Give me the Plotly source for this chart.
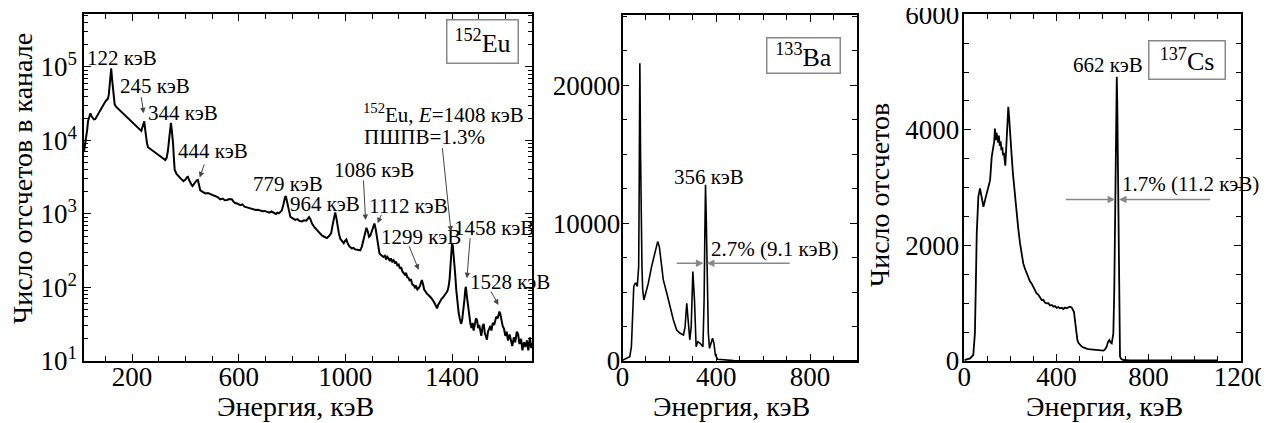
import plotly.graph_objects as go

# ---------------- data ----------------
eu_energy = [
    20, 24, 28, 32, 35, 40, 44, 48, 52, 57,
    62, 67, 72, 78, 85, 92, 100, 105, 110, 113,
    116, 119, 122, 125, 128, 131, 135, 140, 150, 162,
    175, 187, 200, 212, 222, 231, 235, 238, 242, 246,
    249, 252, 256, 260, 270, 281, 293, 306, 316, 325,
    330, 335, 340, 343, 346, 349, 352, 354, 357, 360,
    367, 375, 384, 393, 401, 406, 410, 414, 419, 423,
    427, 432, 437, 442, 447, 451, 456, 465, 475, 485,
    494, 503, 512, 521, 531, 540, 548, 556, 565, 575,
    581, 587, 596, 606, 614, 622, 631, 640, 648, 656,
    664, 672, 681, 690, 698, 706, 715, 723, 731, 740,
    745, 750, 756, 762, 767, 771, 774, 777, 781, 785,
    790, 794, 803, 812, 820, 829, 837, 845, 854, 859,
    864, 869, 875, 884, 894, 903, 912, 921, 931, 939,
    947, 952, 956, 959, 962, 966, 971, 976, 981, 988,
    994, 999, 1004, 1010, 1016, 1024, 1030, 1037, 1046, 1056,
    1062, 1068, 1074, 1079, 1084, 1089, 1094, 1100, 1105, 1109,
    1114, 1119, 1124, 1128, 1135, 1143, 1148, 1153, 1157, 1162,
    1167, 1171, 1176, 1181, 1186, 1190, 1195, 1200, 1205, 1209,
    1214, 1218, 1223, 1228, 1232, 1237, 1242, 1246, 1251, 1256,
    1261, 1265, 1270, 1275, 1280, 1284, 1287, 1291, 1296, 1301,
    1306, 1312, 1317, 1322, 1327, 1331, 1336, 1340, 1344, 1348,
    1352, 1356, 1361, 1366, 1370, 1375, 1380, 1384, 1387, 1391,
    1394, 1397, 1400, 1403, 1406, 1409, 1412, 1416, 1420, 1425,
    1429, 1434, 1438, 1443, 1447, 1450, 1452, 1455, 1460, 1464,
    1469, 1473, 1477, 1481, 1485, 1490, 1494, 1498, 1502, 1506,
    1510, 1515, 1519, 1523, 1527, 1531, 1535, 1540, 1544, 1548,
    1553, 1558, 1562, 1566, 1571, 1575, 1578, 1581, 1585, 1590,
    1595, 1600, 1605, 1610, 1616, 1621, 1626, 1632, 1637, 1643,
    1648, 1653, 1659, 1664, 1670, 1675, 1681, 1686, 1692, 1697,
    1700,
]
eu_counts = [
    7000, 8500, 10500, 14000, 18200, 22000, 23400, 21500, 20000, 19300,
    19500, 21000, 22400, 25000, 27500, 30500, 33900, 35500, 37200, 42000,
    53700, 72000, 95500, 70000, 55000, 40000, 31000, 28800, 26500, 24500,
    22000, 20000, 18000, 16200, 15000, 13800, 13500, 14800, 16500, 18200,
    14500, 11200, 9300, 8100, 7600, 7100, 6500, 6000, 5700, 5400,
    5800, 7400, 11000, 15500, 17400, 14000, 11000, 9100, 5800, 4000,
    3500, 3200, 3000, 2800, 2950, 3150, 3200, 2900, 2600, 2500,
    2400, 2550, 2700, 2850, 2900, 2500, 2100, 2000, 1900, 1930,
    1860, 1820, 1740, 1690, 1580, 1620, 1540, 1550, 1600, 1580,
    1460, 1410, 1380, 1320, 1350, 1260, 1230, 1200, 1170, 1150,
    1130, 1140, 1120, 1090, 1100, 1070, 1040, 1080, 1050, 1000,
    1040, 1020, 1060, 1120, 1300, 1550, 1700, 1740, 1500, 1200,
    1000, 910, 870, 830, 850, 800, 790, 820, 810, 860,
    910, 850, 740, 660, 600, 560, 510, 490, 470, 500,
    550, 700, 870, 980, 1050, 900, 680, 540, 460, 420,
    400, 430, 450, 390, 360, 340, 345, 330, 325, 320,
    360, 450, 560, 650, 580, 490, 510, 580, 680, 740,
    620, 470, 360, 290, 275, 260, 270, 240, 262, 250,
    228, 248, 226, 235, 212, 225, 200, 205, 180, 190,
    165, 160, 150, 158, 138, 135, 122, 130, 110, 107,
    100, 106, 94, 98, 105, 118, 126, 112, 93, 88,
    82, 79, 74, 72, 68, 65, 60, 56, 52, 58,
    62, 65, 70, 73, 76, 79, 86, 92, 102, 130,
    174, 260, 400, 370, 290, 234, 150, 93, 62, 45,
    38, 32, 36, 49, 70, 95, 102, 80, 55, 40,
    32, 28, 33, 26, 30, 38, 36, 28, 31, 25,
    22, 30, 32, 24, 21, 19.5, 25, 28, 30, 26,
    33, 31, 36, 40, 38, 45, 47, 44, 36, 30,
    27.5, 22, 25, 19, 23, 19, 16, 21, 18, 25,
    23, 17, 20, 14, 18, 15.5, 19, 14, 21, 15,
    17.4,
]

ba_energy = [
    0, 17, 31, 38, 44, 48, 53, 57, 63, 66,
    69, 71, 74, 77, 80, 83, 86, 91, 99, 110,
    124, 138, 150, 157, 164, 174, 189, 203, 217, 231,
    246, 260, 267, 274, 280, 287, 293, 300, 307, 314,
    321, 331, 343, 348, 351, 354, 357, 360, 366, 371,
    377, 384, 390, 396, 406, 431, 474, 550, 700, 850,
    1000,
]
ba_counts = [
    60, 200, 310, 1040, 3500, 5400, 5600, 5640, 5400, 6000,
    6850, 12000, 21600, 15000, 9500, 6850, 5200, 4430, 4920, 5640,
    6850, 7820, 8660, 8300, 7100, 5880, 4920, 3940, 2980, 2250,
    2010, 1890, 2490, 4190, 2980, 1525, 2490, 6490, 4430, 1040,
    1400, 1285, 1040, 4430, 9000, 12780, 10500, 6850, 2010, 920,
    1285, 1650, 1285, 435, 120, 70, 30, 20, 10, 10,
    10,
]

cs_energy = [
    0, 25, 39, 46, 50, 54, 61, 68, 75, 83,
    90, 97, 104, 112, 119, 126, 130, 133, 137, 140,
    143, 147, 150, 154, 158, 161, 165, 168, 172, 175,
    178, 181, 184, 188, 191, 194, 198, 202, 206, 211,
    216, 221, 227, 234, 242, 249, 256, 263, 271, 278,
    285, 292, 299, 307, 314, 321, 329, 336, 343, 350,
    358, 365, 372, 380, 387, 394, 401, 408, 415, 423,
    430, 437, 444, 451, 458, 466, 471, 476, 480, 483,
    487, 491, 496, 502, 510, 517, 524, 531, 539, 546,
    553, 560, 567, 575, 582, 589, 596, 604, 611, 618,
    624, 630, 635, 640, 644, 647, 651, 654, 657, 660,
    662, 664, 667, 670, 672, 676, 680, 690, 720, 800,
    900, 1000, 1100,
]
cs_counts = [
    15, 46, 104, 478, 1300, 2208, 2842, 2986, 2842, 2669,
    2784, 2899, 3015, 3130, 3533, 3706, 3800, 4023, 3822, 3950,
    3860, 3780, 3900, 3720, 3800, 3650, 3700, 3560, 3600, 3450,
    3380, 3600, 3937, 4200, 4398, 4250, 4052, 3800, 3533, 3250,
    3015, 2780, 2553, 2300, 2035, 1850, 1689, 1600, 1516, 1430,
    1380, 1343, 1280, 1230, 1170, 1150, 1100, 1055, 1060, 1010,
    997, 1000, 960, 970, 940, 950, 920, 935, 911, 920,
    900, 925, 911, 930, 940, 928, 900, 853, 720, 594,
    470, 363, 310, 277, 250, 235, 219, 215, 205, 202,
    200, 195, 192, 190, 188, 185, 182, 179, 200, 248,
    330, 363, 320, 305, 400, 478, 1200, 2208, 3600, 4700,
    4917, 4500, 3360, 1800, 1055, 75, 40, 17, 12, 10,
    10, 10, 10,
]

eu_ticks = [200, 600, 1000, 1400]
ba_xticks = [0, 400, 800]
cs_xticks = [0, 400, 800, 1200]
eu_yticks = [10, 100, 1000, 10000, 100000]
eu_yticktext = ["10<sup>1</sup>", "10<sup>2</sup>", "10<sup>3</sup>", "10<sup>4</sup>", "10<sup>5</sup>"]
ba_yticks = [0, 10000, 20000]
ba_yticktext = ["0", "10000", "20000"]
cs_yticks = [0, 2000, 4000, 6000]
cs_yticktext = ["0", "2000", "4000", "6000"]

x_title = "Энергия, кэВ"
eu_y_title = "Число отсчетов в канале"
cs_y_title = "Число отсчетов"

# ---------------- figure ----------------
FONT = "Liberation Serif"
OFF = 8                      # page body margin in the viewer
W, H = 1269 - OFF, 423 - OFF

fig = go.Figure()
fig.add_trace(go.Scatter(x=eu_energy, y=eu_counts, mode="lines",
                         line=dict(color="black", width=2),
                         xaxis="x", yaxis="y", showlegend=False, hoverinfo="skip"))
fig.add_trace(go.Scatter(x=ba_energy, y=ba_counts, mode="lines",
                         line=dict(color="black", width=1.6),
                         xaxis="x2", yaxis="y2", showlegend=False, hoverinfo="skip"))
fig.add_trace(go.Scatter(x=cs_energy, y=cs_counts, mode="lines",
                         line=dict(color="black", width=1.8),
                         xaxis="x3", yaxis="y3", showlegend=False, hoverinfo="skip"))


def ax_style(**kw):
    d = dict(showline=True, linecolor="black", linewidth=1.5, mirror="allticks",
             ticks="inside", ticklen=7, tickwidth=1.2, tickcolor="black",
             showgrid=False, zeroline=False, automargin=False,
             ticklabeloverflow="allow",
             tickfont=dict(family=FONT, size=27, color="black"))
    d.update(kw)
    return d


def minor(dt, t0=0):
    return dict(ticks="inside", ticklen=5, tickwidth=1, tickcolor="black",
                dtick=dt, tick0=t0, showgrid=False)


def px_x(p):
    return (p - OFF) / W


def px_y(p):
    return 1 - (p - OFF) / H


fig.update_layout(
    width=W, height=H, autosize=False,
    margin=dict(l=0, r=0, t=0, b=0, pad=0),
    paper_bgcolor="white", plot_bgcolor="white",
    font=dict(family=FONT, color="black"),
    xaxis=ax_style(domain=[px_x(84), px_x(532)], range=[20, 1700],
                   tickmode="array", tickvals=eu_ticks, minor=minor(100),
                   ticklabelstandoff=-9, anchor="y"),
    yaxis=ax_style(domain=[px_y(361), px_y(14)], type="log", range=[1, 5.72],
                   tickmode="array", tickvals=eu_yticks, ticktext=eu_yticktext,
                   minor=dict(ticks="inside", ticklen=4, tickwidth=1,
                              tickcolor="black", dtick="D1", showgrid=False),
                   anchor="x"),
    xaxis2=ax_style(domain=[px_x(622.5), px_x(857)], range=[0, 1000],
                    tickmode="array", tickvals=ba_xticks, minor=minor(100),
                    ticklabelstandoff=-9, anchor="y2"),
    yaxis2=ax_style(domain=[px_y(361), px_y(15)], range=[0, 25100],
                    tickmode="array", tickvals=ba_yticks, ticktext=ba_yticktext,
                    minor=minor(2500), ticklabelstandoff=-5, anchor="x2"),
    xaxis3=ax_style(domain=[px_x(964.3), px_x(1240.7)], range=[0, 1200],
                    tickmode="array", tickvals=cs_xticks, minor=minor(100),
                    ticklabelstandoff=-9, anchor="y3"),
    yaxis3=ax_style(domain=[px_y(361), px_y(14)], range=[0, 6005],
                    tickmode="array", tickvals=cs_yticks, ticktext=cs_yticktext,
                    minor=minor(500), ticklabelstandoff=-2, anchor="x3"),
)

ann = []
LBL = dict(family=FONT, size=21, color="black")


def label(text, x, y, xr, yr, **kw):
    d = dict(text=text, x=x, y=y, xref=xr, yref=yr, showarrow=False, font=LBL,
             xanchor="center", yanchor="middle")
    d.update(kw)
    ann.append(d)


def arrow(x, y, ax, ay, xr, yr, color="#444", width=1, size=1.1):
    ann.append(dict(text="", x=x, y=y, xref=xr, yref=yr, ax=ax, ay=ay,
                    showarrow=True, arrowhead=2, arrowsize=size,
                    arrowwidth=width, arrowcolor=color))


# Eu panel labels (y in log10 units)
label("122 кэВ", 163.6, 5.12, "x", "y")
label("245 кэВ", 287, 4.74, "x", "y")
label("344 кэВ", 392, 4.37, "x", "y")
label("444 кэВ", 503, 3.86, "x", "y")
label("779 кэВ", 785, 3.41, "x", "y")
label("964 кэВ", 924, 3.14, "x", "y")
label("1086 кэВ", 1109, 3.60, "x", "y")
label("1112 кэВ", 1237, 3.11, "x", "y")
label("1299 кэВ", 1284, 2.68, "x", "y")
label("1458 кэВ", 1556, 2.81, "x", "y")
label("1528 кэВ", 1616, 2.08, "x", "y")
label("<sup>152</sup>Eu, <i>E</i>=1408 кэВ", 1059, 4.37, "x", "y", xanchor="left")
label("ПШПВ=1.3%", 1063, 4.05, "x", "y", xanchor="left")

arrow(243.5, 4.37, -2.6, -17.6, "x", "y")
arrow(454, 3.497, 5, -14.5, "x", "y")
arrow(1076, 2.918, -2.2, -41, "x", "y")
arrow(1121, 2.875, 4.4, -10, "x", "y")
arrow(1275, 2.24, -10, -25, "x", "y")
arrow(1396, 2.76, -8.7, -85, "x", "y")
arrow(1456, 2.125, 3.3, -41.6, "x", "y")
arrow(1574, 1.762, -8.2, -15, "x", "y")

# Ba panel
label("356 кэВ", 370, 13380, "x2", "y2")
label("2.7% (9.1 кэВ)", 650, 8150, "x2", "y2")
arrow(345, 7095, -28.2, 0, "x2", "y2", color="#888", width=1.5, size=1)
arrow(360, 7095, 84.2, 0, "x2", "y2", color="#888", width=1.5, size=1)

# Cs panel
label("662 кэВ", 625, 5118, "x3", "y3")
label("1.7% (11.2 кэВ)", 983, 3060, "x3", "y3")
arrow(654.5, 2795, -50.8, 0, "x3", "y3", color="#888", width=1.5, size=1)
arrow(672, 2795, 92.6, 0, "x3", "y3", color="#888", width=1.5, size=1)

# isotope boxes
BOX = dict(family=FONT, size=26, color="black")
ann.append(dict(text="<sup>152</sup>Eu", x=1513, y=5.34, xref="x", yref="y",
                showarrow=False, font=BOX, bordercolor="#888", borderwidth=1.5,
                borderpad=0, width=70, height=42, bgcolor="white"))
ann.append(dict(text="<sup>133</sup>Ba", x=771, y=22165, xref="x2", yref="y2",
                showarrow=False, font=BOX, bordercolor="#888", borderwidth=1.5,
                borderpad=0, width=72, height=34, bgcolor="white"))
ann.append(dict(text="<sup>137</sup>Cs", x=969, y=5208, xref="x3", yref="y3",
                showarrow=False, font=BOX, bordercolor="#888", borderwidth=1.5,
                borderpad=0, width=75, height=37, bgcolor="white"))

# axis titles
TTL = dict(family=FONT, size=28, color="black")
for cx in (295.5, 731.5, 1104):
    ann.append(dict(text=x_title, x=px_x(cx), y=px_y(406), xref="paper", yref="paper",
                    xanchor="center", yanchor="middle", showarrow=False, font=TTL))
ann.append(dict(text=eu_y_title, x=px_x(22), y=px_y(179), xref="paper", yref="paper",
                xanchor="center", yanchor="middle", showarrow=False, font=TTL,
                textangle=-90))
ann.append(dict(text=cs_y_title, x=px_x(880), y=px_y(195), xref="paper", yref="paper",
                xanchor="center", yanchor="middle", showarrow=False, font=TTL,
                textangle=-90))

fig.update_layout(annotations=ann)
fig.write_html("out.html")
